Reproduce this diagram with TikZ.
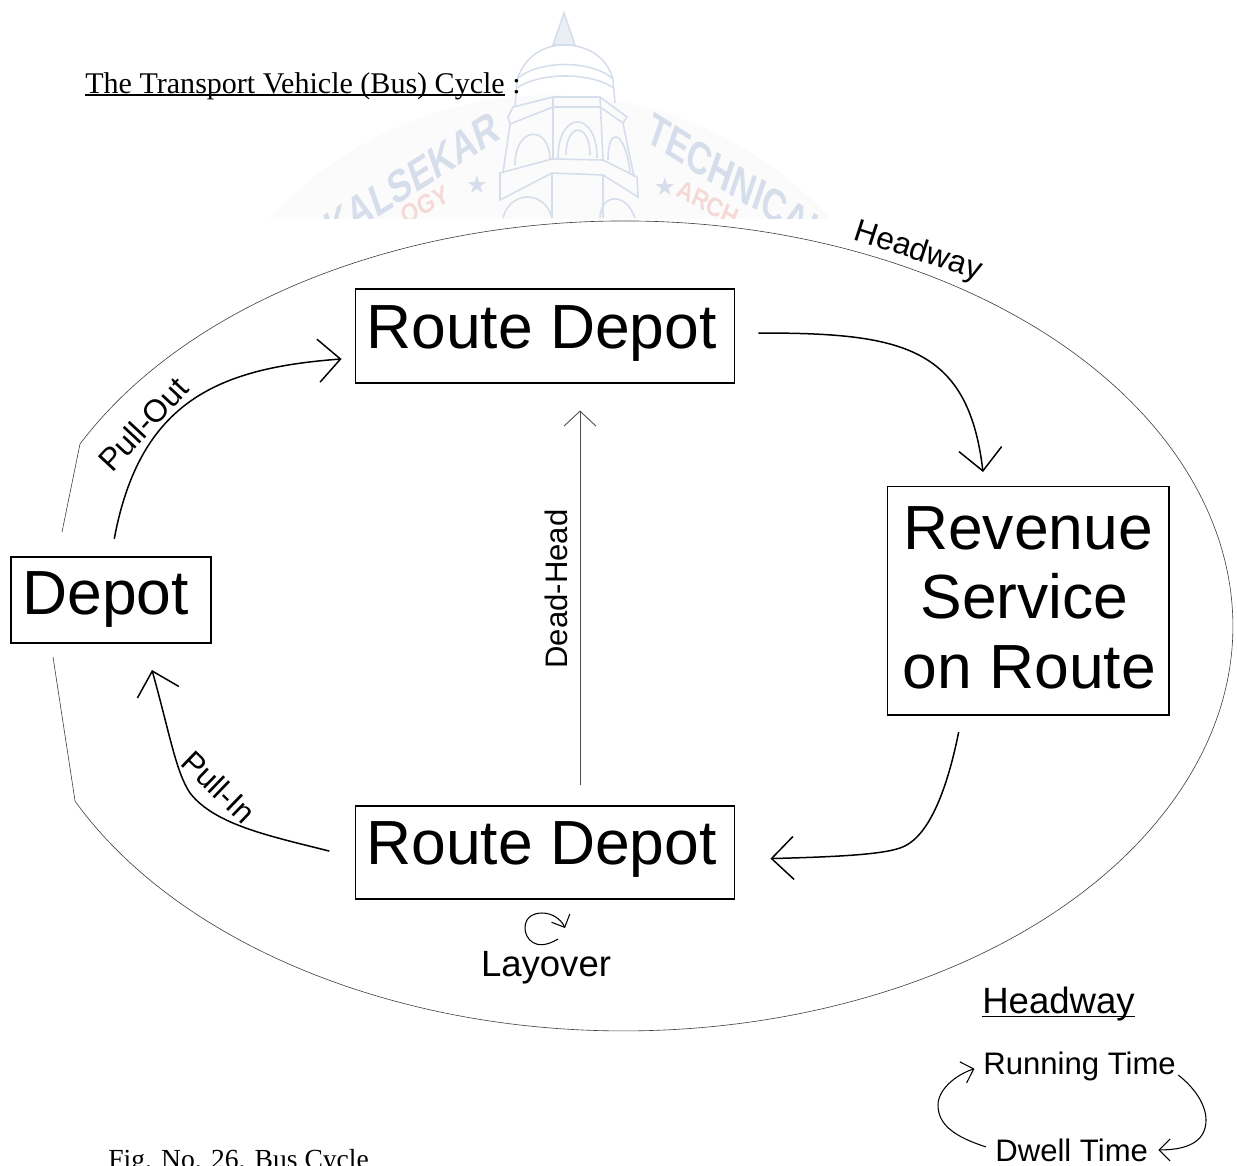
\documentclass[tikz,border=0pt]{standalone}
\usepackage{fontspec}
\setmainfont{Liberation Sans}
\newfontfamily\serifface{Liberation Serif}
\newfontfamily\starface{DejaVu Sans}
\usetikzlibrary{arrows.meta}
\definecolor{markblue}{HTML}{D6DEEC}
\definecolor{markred}{HTML}{F5D9D6}
\definecolor{markglow}{HTML}{FBFBFB}
\newcommand{\heavyunder}[2]{\setbox0=\hbox{#2}\rlap{\rule[-#1]{\wd0}{0.9pt}}\box0\relax}
\tikzset{
	stopbox/.style={draw, line width=0.6pt, inner sep=0pt, align=center, font=\fontsize{35.5}{39.8}\selectfont},
	flow/.style={line width=0.85pt, -{Straight Barb[length=0.44cm,width=0.86cm]}},
	rim/.style={line width=0.35pt, black!75},
	tag/.style={font=\fontsize{17.7}{20}\selectfont},
	bigtag/.style={font=\fontsize{20.8}{24}\selectfont},
	smallflow/.style={line width=0.6pt, -{Straight Barb[length=0.22cm,width=0.44cm]}},
	towerline/.style={markblue, line width=0.9pt},
	markword/.style={markblue, xscale=0.74, font=\fontsize{26}{26}\bfseries\selectfont},
	marksmall/.style={markred, xscale=0.85, font=\fontsize{15}{15}\bfseries\selectfont}
}
\begin{document}
\begin{tikzpicture}[x=0.02cm, y=-0.02cm]
	\clip (0, 0) rectangle (1237, 1166);

	\begin{scope}
		\clip (0, 0) rectangle (1237, 218);
		\fill[markglow] (550, 475) circle (7.6cm);
		\draw[towerline, fill=markblue!50] (564, 13)--(553, 45)--(575, 45)--cycle;
		\draw[towerline] (517, 80) .. controls (525, 55) and (545, 45) .. (564, 45) .. controls (585, 45) and (607, 55) .. (613, 80);
		\draw[towerline] (518, 78) .. controls (540, 60) and (590, 60) .. (612, 78);
		\draw[towerline] (517, 88) .. controls (540, 72) and (590, 72) .. (614, 88);
		\draw[towerline] (517, 80)--(515, 107);
		\draw[towerline] (613, 80)--(615, 103);
		\draw[towerline] (508, 117)--(513, 107)--(553, 97)--(600, 97)--(627, 117)--(623, 123)--(600, 107)--(553, 107)--(510, 124)--cycle;
		\draw[towerline] (553, 97)--(553, 159);
		\draw[towerline] (600, 97)--(603, 160);
		\draw[towerline] (510, 124)--(503, 173);
		\draw[towerline] (623, 123)--(634, 177);
		\draw[towerline] (500, 173)--(552, 159)--(603, 160)--(637, 177)--(638, 197)--(603, 175)--(552, 173)--(500, 200)--cycle;
		\draw[towerline] (515, 165) .. controls (515, 125) and (550, 125) .. (550, 160);
		\draw[towerline] (558, 158) .. controls (558, 110) and (597, 110) .. (597, 158);
		\draw[towerline] (566, 155) .. controls (566, 122) and (590, 122) .. (590, 155);
		\draw[towerline] (608, 160) .. controls (608, 125) and (625, 130) .. (630, 172);
		\draw[towerline] (503, 218) .. controls (510, 190) and (545, 190) .. (552, 218);
		\draw[towerline] (600, 218) .. controls (600, 195) and (625, 190) .. (635, 218);
		\draw[towerline] (552, 173)--(552, 218);
		\draw[towerline] (603, 175)--(603, 218);
		\node[markword, rotate=25] (markleft) at (412, 178) {KALSEKAR};
		\node[markword, rotate=-25] (markright) at (738, 182) {TECHNICAL};
		\node[marksmall, rotate=25] (markgy) at (425, 205) {OGY};
		\node[marksmall, rotate=-25] (markarch) at (708, 203) {ARCH};
		\node[markblue, font=\starface\fontsize{14}{14}\selectfont] (markstarleft) at (477, 185) {★};
		\node[markblue, font=\starface\fontsize{14}{14}\selectfont] (markstarright) at (665, 187) {★};
	\end{scope}

	\node[anchor=base west, font=\serifface\fontsize{17.1}{20}\selectfont, inner sep=0pt] (title) at (85, 93) {\heavyunder{1.7pt}{The Transport Vehicle (Bus) Cycle} :};

	\node[stopbox, minimum width=7.6cm, minimum height=1.88cm, text depth=9.7pt] (top) at (545, 336) {\hspace*{-3.8pt}Route Depot};
	\node[stopbox, minimum width=7.6cm, minimum height=1.86cm, text depth=10.8pt] (bottom) at (545, 852.5) {\hspace*{-3.8pt}Route Depot};
	\node[stopbox, minimum width=4cm, minimum height=1.72cm] (depot) at (111, 600) {\hspace*{-6.2pt}Depot};
	\node[stopbox, minimum width=5.64cm, minimum height=4.58cm, text depth=3.4pt] (revenue) at (1028, 600.5) {Revenue\\\hspace*{-4pt}Service\\\hspace*{1.7pt}on Route};

	\draw[rim] (62, 532)--(80, 444) arc[start angle=153.3, end angle=-154.35, x radius=12.18cm, y radius=8.1cm]--(53, 657);

	\draw[flow, shorten <=0.46cm] ([yshift=0.06cm]top.east) .. controls (900, 333) and (968, 345) .. (983, 472);
	\draw[flow, shorten <=0.34cm, shorten >=0.7cm] ([xshift=-1.32cm]revenue.south) .. controls (945, 800) and (925, 840) .. (900, 848) .. controls (880, 855) and (830, 857) .. ([yshift=-0.14cm]bottom.east);
	\draw[flow, shorten <=0.52cm] ([yshift=-0.1cm]bottom.west) .. controls (270, 836) and (215, 825) .. (190, 793) .. controls (176, 772) and (170, 735) .. (152, 670);
	\draw[flow, shorten <=0.36cm, shorten >=0.26cm] (depot.north) .. controls (140, 400) and (220, 368) .. ([yshift=-0.44cm]top.west);
	\draw[line width=0.5pt, black!70, -{Straight Barb[length=0.3cm,width=0.64cm]}, shorten <=0.4cm, shorten >=0.54cm] ([xshift=0.7cm]bottom.north)--([xshift=0.7cm]top.south);

	\node[tag, font=\fontsize{18}{20}\selectfont, rotate=-18] (headwaytag) at (918, 252) {Headway};
	\node[tag, font=\fontsize{18}{20}\selectfont, rotate=47] (pullout) at (143, 424) {Pull-Out};
	\node[tag, rotate=-44] (pullin) at (219, 787) {Pull-In};
	\node[tag, rotate=90] (deadhead) at (556, 589) {Dead-Head};

	\node[bigtag] (layover) at (546, 968) {Layover};
	\coordinate (loopstart) at (558, 939);
	\coordinate (loopend) at (565, 928);
	\draw[line width=0.6pt, -{Straight Barb[length=0.2cm,width=0.4cm]}] (loopstart) .. controls (535, 953) and (525, 938) .. (525, 928) .. controls (525, 916) and (535, 913) .. (542, 913) .. controls (552, 913) and (561, 919) .. (loopend);

	\node[bigtag, anchor=base west, inner sep=0pt] (headwayhead) at (982, 1013) {\heavyunder{2.5pt}{Headway}};
	\node[tag, anchor=base west, inner sep=0pt] (running) at (983, 1074) {Running Time};
	\node[tag, anchor=base west, inner sep=0pt] (dwell) at (995, 1161) {Dwell Time};
	\draw[smallflow, shorten >=0.18cm] (dwell.west) ++(-9, -3) .. controls (955, 1137) and (938, 1125) .. (938, 1105) .. controls (938, 1090) and (955, 1075) .. (running.west);
	\draw[smallflow, shorten >=0.2cm] (running.east) ++(2, 9) .. controls (1195, 1088) and (1206, 1105) .. (1206, 1120) .. controls (1206, 1143) and (1185, 1150) .. (dwell.east);

	\node[anchor=base west, font=\serifface\fontsize{15.7}{18}\selectfont, inner sep=0pt] (figno) at (108, 1168) {Fig. No. 26. Bus Cycle};
\end{tikzpicture}
\end{document}
